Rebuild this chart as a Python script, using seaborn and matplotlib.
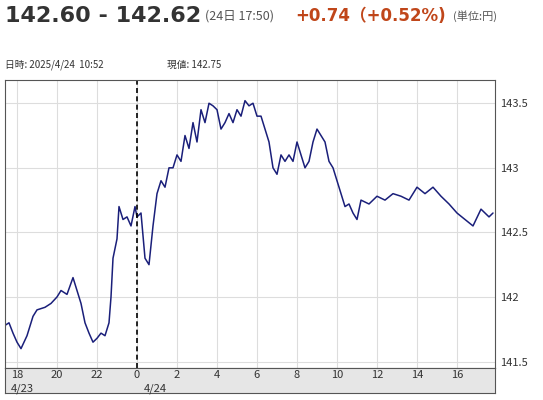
import matplotlib
matplotlib.use("Agg")
import matplotlib.pyplot as plt
import seaborn as sns
import pandas as pd

sns.set_style("white")
plt.rcParams['font.family'] = ['Noto Sans CJK JP', 'DejaVu Sans']

hours = [-6.6,-6.4,-6.2,-6.0,-5.8,-5.5,-5.2,-5.0,-4.6,-4.3,-4.0,-3.8,-3.5,-3.2,-3.0,-2.8,-2.6,-2.4,-2.2,-2.0,-1.8,-1.6,-1.4,-1.3,-1.2,-1.0,-0.9,-0.7,-0.5,-0.3,-0.1,0.0,
         0.2,0.4,0.6,0.8,1.0,1.2,1.4,1.6,1.8,2.0,2.2,2.4,2.6,2.8,3.0,3.2,3.4,3.6,3.8,4.0,4.2,4.4,4.6,4.8,5.0,5.2,5.4,5.6,5.8,6.0,6.2,6.4,6.6,6.8,7.0,7.2,7.4,7.6,7.8,8.0,8.2,8.4,8.6,8.8,9.0,9.2,9.4,9.6,9.8,10.0,10.2,10.4,10.6,10.8,11.0,11.2,11.6,12.0,12.4,12.8,13.2,13.6,14.0,14.4,14.8,15.2,15.6,16.0,16.4,16.8,17.2,17.6,17.8]
values = [141.78,141.8,141.72,141.65,141.6,141.7,141.85,141.9,141.92,141.95,142.0,142.05,142.02,142.15,142.05,141.95,141.8,141.72,141.65,141.68,141.72,141.7,141.8,142.0,142.3,142.45,142.7,142.6,142.62,142.55,142.7,142.62,
          142.65,142.3,142.25,142.55,142.8,142.9,142.85,143.0,143.0,143.1,143.05,143.25,143.15,143.35,143.2,143.45,143.35,143.5,143.48,143.45,143.3,143.35,143.42,143.35,143.45,143.4,143.52,143.48,143.5,143.4,143.4,143.3,143.2,143.0,142.95,143.1,143.05,143.1,143.05,143.2,143.1,143.0,143.05,143.2,143.3,143.25,143.2,143.05,143.0,142.9,142.8,142.7,142.72,142.65,142.6,142.75,142.72,142.78,142.75,142.8,142.78,142.75,142.85,142.8,142.85,142.78,142.72,142.65,142.6,142.55,142.68,142.62,142.65]
xtick_pos = [-6,-4,-2,0,2,4,6,8,10,12,14,16]
xtick_labels = ["18","20","22","0","2","4","6","8","10","12","14","16"]
ytick_pos = [141.5,142,142.5,143,143.5]
ytick_labels = ["141.5","142","142.5","143","143.5"]

df = pd.DataFrame({"h": hours, "v": values})
fig = plt.figure(figsize=(5.43,4.0), dpi=100)
ax = fig.add_axes([5/543, 32/400, 490/543, 288/400])
sns.lineplot(data=df, x="h", y="v", ax=ax, color="#1a1f7a", linewidth=1.1)
xmin, xmax = -6.6, 17.9
ax.set_xlim(xmin, xmax); ax.set_ylim(141.45, 143.68)
ax.set_xticks(xtick_pos); ax.set_xticklabels([])
ax.set_yticks(ytick_pos); ax.set_yticklabels(ytick_labels, fontsize=8, color="#333")
ax.yaxis.tick_right()
ax.tick_params(axis="y", length=0, pad=4)
ax.tick_params(axis="x", length=0)
ax.grid(True, color="#dddddd", linewidth=0.8)
ax.axvline(0, color="black", linestyle=(0,(3,2)), linewidth=1.2)
ax.set_xlabel(""); ax.set_ylabel("")
for s in ax.spines.values():
    s.set_color("#555"); s.set_linewidth(0.8)

bx = fig.add_axes([5/543, 7/400, 490/543, 25/400])
bx.set_facecolor("#e6e6e6")
bx.set_xlim(xmin, xmax); bx.set_ylim(0,1)
bx.set_xticks([]); bx.set_yticks([])
for p, l in zip(xtick_pos, xtick_labels):
    bx.text(p, 0.9, l, ha="center", va="top", fontsize=8, color="#333")
bx.text(-6.3, 0.4, "4/23", ha="left", va="top", fontsize=8, color="#333")
bx.text(0.35, 0.4, "4/24", ha="left", va="top", fontsize=8, color="#333")
for s in bx.spines.values():
    s.set_color("#555"); s.set_linewidth(0.8)

fig.text(5/543, 1-16/400, "142.60 - 142.62", fontsize=16, fontweight="bold", color="#333", va="center", family=["DejaVu Sans"])
fig.text(205/543, 1-16/400, "(24日 17:50)", fontsize=9, color="#555", va="center")
fig.text(295/543, 1-16/400, "+0.74（+0.52%)", fontsize=12, fontweight="bold", color="#c0461a", va="center", family=["DejaVu Sans", "Noto Sans CJK JP"])
fig.text(453/543, 1-16/400, "(単位:円)", fontsize=8, color="#555", va="center")
fig.text(5/543, 1-65/400, "日時: 2025/4/24  10:52", fontsize=7, color="#333", va="center")
fig.text(167/543, 1-65/400, "現値: 142.75", fontsize=7, color="#333", va="center")
fig.savefig("out.png", dpi=100)
